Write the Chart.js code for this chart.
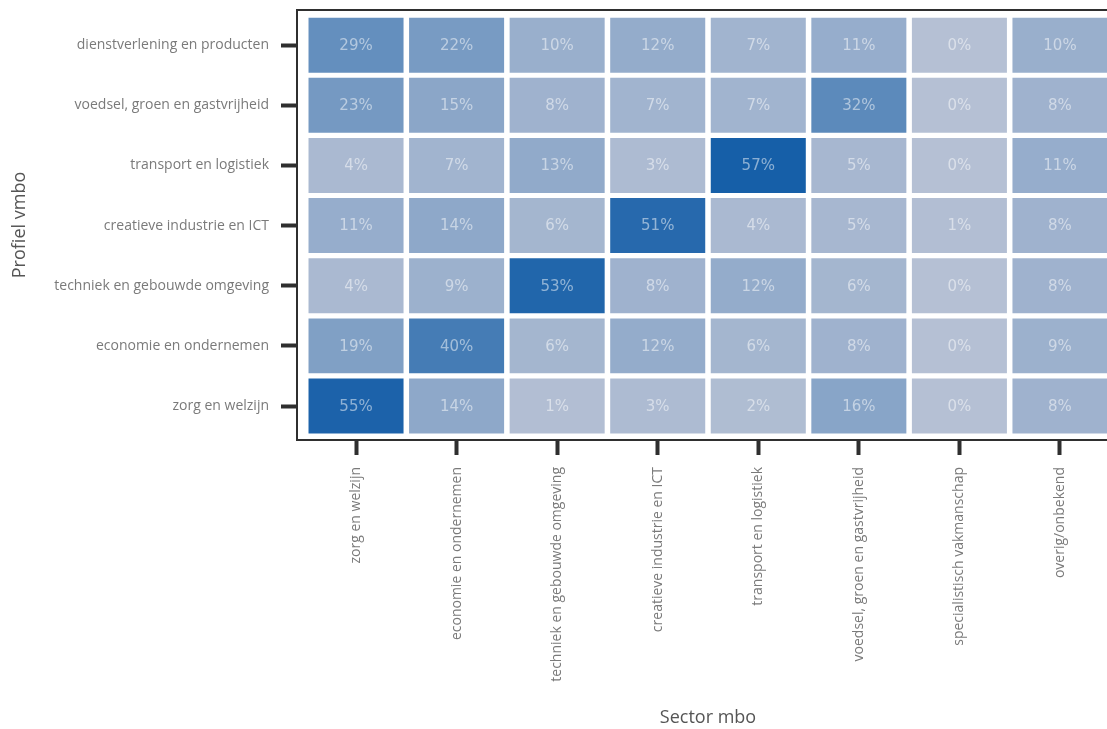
<!DOCTYPE html>
<html>
<head>
<meta charset="utf-8">
<script src="https://cdn.jsdelivr.net/npm/chart.js@4"></script>
<style>
  html, body { margin: 0; padding: 0; background: #fff; overflow: hidden; }
</style>
</head>
<body>
<canvas id="heatmap" width="1125" height="729"></canvas>
<script>
// sectors mbo (columns, left to right)
const sectors = [
    "zorg en welzijn",
    "economie en ondernemen",
    "techniek en gebouwde omgeving",
    "creatieve industrie en ICT",
    "transport en logistiek",
    "voedsel, groen en gastvrijheid",
    "specialistisch vakmanschap",
    "overig/onbekend"
];

// profiles vmbo (rows, top to bottom)
const profiles = [
    "dienstverlening en producten",
    "voedsel, groen en gastvrijheid",
    "transport en logistiek",
    "creatieve industrie en ICT",
    "techniek en gebouwde omgeving",
    "economie en ondernemen",
    "zorg en welzijn"
];

// percentages per profile row, one value per sector
const dienstverlening = [29, 22, 10, 12, 7, 11, 0, 10];
const voedsel         = [23, 15, 8, 7, 7, 32, 0, 8];
const transport       = [4, 7, 13, 3, 57, 5, 0, 11];
const creatief        = [11, 14, 6, 51, 4, 5, 1, 8];
const techniek        = [4, 9, 53, 8, 12, 6, 0, 8];
const economie        = [19, 40, 6, 12, 6, 8, 0, 9];
const zorg            = [55, 14, 1, 3, 2, 16, 0, 8];

const rows = [dienstverlening, voedsel, transport, creatief, techniek, economie, zorg];

// light grey-blue -> dark blue
const lo = [181, 192, 212], hi = [22, 95, 168];
function cellColor(v) {
    let t = Math.min(v / 57, 1);
    let c = lo.map((a, k) => Math.round(a + (hi[k] - a) * t));
    return "rgb(" + c.join(",") + ")";
}

let cells = [];
rows.forEach((vals, r) => {
    vals.forEach((v, c) => {
        cells.push({ x: c, y: [r - 0.457, r + 0.457], v: v });
    });
});

const cellLabels = {
    id: "cellLabels",
    afterDatasetsDraw(chart) {
        let ctx = chart.ctx;
        let meta = chart.getDatasetMeta(0);
        ctx.save();
        ctx.font = '15px "DejaVu Sans"';
        ctx.fillStyle = "rgba(255,255,255,0.5)";
        ctx.textAlign = "center";
        ctx.textBaseline = "middle";
        meta.data.forEach((bar, i) => {
            let p = bar.getCenterPoint();
            ctx.fillText(cells[i].v + "%", p.x, p.y + 1);
        });
        ctx.restore();
    }
};

const frame = {
    id: "frame",
    afterDraw(chart) {
        let a = chart.chartArea;
        let ctx = chart.ctx;
        ctx.save();
        ctx.strokeStyle = "#2f2f2f";
        ctx.lineWidth = 2;
        ctx.strokeRect(a.left, a.top, a.right - a.left, a.bottom - a.top);
        ctx.restore();
    }
};

let ctx = document.getElementById("heatmap").getContext("2d");
new Chart(ctx, {
    type: "bar",
    data: {
        datasets: [{
            data: cells,
            backgroundColor: cells.map(c => cellColor(c.v)),
            borderWidth: 0,
            categoryPercentage: 1,
            barPercentage: 0.945
        }]
    },
    options: {
        responsive: false,
        animation: false,
        layout: { padding: { top: 10, right: 6, left: 0, bottom: 0 } },
        plugins: {
            legend: { display: false },
            tooltip: { enabled: false }
        },
        scales: {
            x: {
                type: "linear",
                offset: false,
                min: -0.587,
                max: 7.587,
                afterBuildTicks: scale => { scale.ticks = sectors.map((s, i) => ({ value: i })); },
                afterFit: scale => {
                    scale.height = 289;
                    scale.paddingLeft = 0;
                    scale.paddingRight = 0;
                },
                grid: { offset: false, drawOnChartArea: false, tickLength: 15, tickWidth: 4, tickColor: "#2f2f2f" },
                border: { display: false },
                ticks: {
                    autoSkip: false,
                    minRotation: 90,
                    maxRotation: 90,
                    padding: 12,
                    color: "#7a7a7a",
                    font: { family: "Open Sans", size: 14 },
                    callback: (v, i) => sectors[i]
                },
                title: {
                    display: true,
                    text: "Sector mbo",
                    color: "#555",
                    font: { family: "Open Sans", size: 18 },
                    padding: { top: 1, bottom: 0 }
                }
            },
            y: {
                type: "linear",
                reverse: true,
                min: -0.585,
                max: 6.565,
                afterBuildTicks: scale => { scale.ticks = profiles.map((p, i) => ({ value: i })); },
                afterFit: scale => {
                    scale.width = 297;
                    scale.paddingTop = 0;
                    scale.paddingBottom = 0;
                },
                grid: { drawOnChartArea: false, tickLength: 16, tickWidth: 4, tickColor: "#2f2f2f" },
                border: { display: false },
                ticks: {
                    autoSkip: false,
                    padding: 12,
                    color: "#7a7a7a",
                    font: { family: "Open Sans", size: 14 },
                    callback: (v, i) => profiles[i]
                },
                title: {
                    display: true,
                    text: "Profiel vmbo",
                    color: "#555",
                    font: { family: "Open Sans", size: 18 },
                    padding: { top: 9, bottom: 0 }
                }
            }
        }
    },
    plugins: [cellLabels, frame]
});
</script>
</body>
</html>
